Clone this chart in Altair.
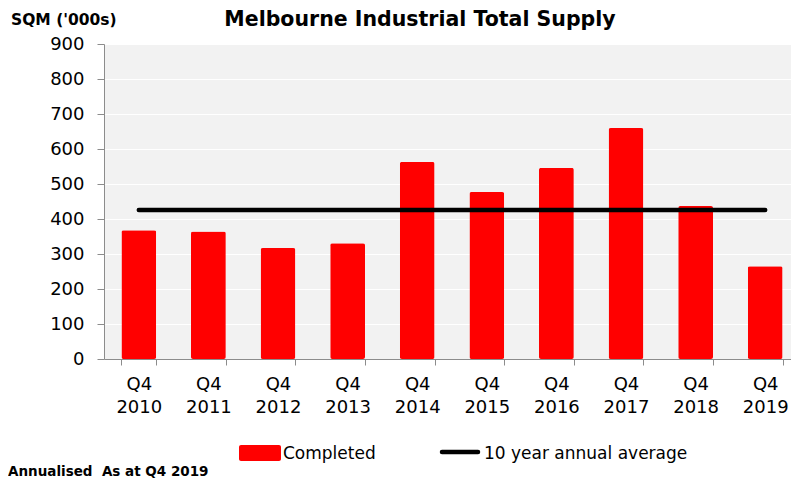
import altair as alt
import pandas as pd

quarters = ["Q4 2010", "Q4 2011", "Q4 2012", "Q4 2013", "Q4 2014",
            "Q4 2015", "Q4 2016", "Q4 2017", "Q4 2018", "Q4 2019"]
completed = [368, 364, 317, 331, 563, 477, 546, 660, 437, 265]
ten_year_avg = 426
y_ticks = [0, 100, 200, 300, 400, 500, 600, 700, 800, 900]

title_text = "Melbourne Industrial Total Supply"
y_title = "SQM ('000s)"
footnote = "Annualised\u00a0 As at Q4 2019"
legend_labels = ["Completed", "10 year annual average"]

FONT = "DejaVu Sans"
GRAY = "#8c8c8c"

df = pd.DataFrame({
    "quarter": quarters,
    "completed": completed,
    "avg": [ten_year_avg] * len(quarters),
})

x_scale = alt.Scale(paddingInner=0.5, paddingOuter=0.25)
x_axis = alt.Axis(
    labelExpr="split(datum.label, ' ')", labelAngle=0, labelFontSize=18,
    labelLineHeight=23, labelPadding=10, labelColor="black",
    tickBand="extent", tickSize=6, tickColor=GRAY, domainColor=GRAY,
    labelFont=FONT,
)
y_scale = alt.Scale(domain=[0, 900], nice=False)
y_axis = alt.Axis(
    values=y_ticks, labelFontSize=18, labelColor="black", labelPadding=13,
    tickSize=7, tickColor=GRAY, domainColor=GRAY, gridColor="white",
    gridWidth=1, labelFont=FONT, labelOverlap=False,
)

bars = alt.Chart(df).mark_bar(color="#ff0000", cornerRadius=2).encode(
    x=alt.X("quarter:N", sort=quarters, title=None, scale=x_scale, axis=x_axis),
    y=alt.Y("completed:Q", title=None, scale=y_scale, axis=y_axis),
)

avg_line = alt.Chart(df).mark_line(color="black", strokeWidth=4.5, strokeCap="round").encode(
    x=alt.X("quarter:N", sort=quarters, title=None, scale=x_scale, axis=x_axis),
    y=alt.Y("avg:Q", title=None, scale=y_scale, axis=y_axis),
)

one = pd.DataFrame({"t": [title_text], "yt": [y_title], "fn": [footnote],
                    "l1": [legend_labels[0]], "l2": [legend_labels[1]]})

title_mark = alt.Chart(one).mark_text(
    fontSize=20.5, fontWeight="bold", align="center", baseline="alphabetic", font=FONT, color="black"
).encode(text="t:N", x=alt.value(316), y=alt.value(-18))

ytitle_mark = alt.Chart(one).mark_text(
    fontSize=15.5, fontWeight="bold", align="left", baseline="alphabetic", font=FONT, color="black"
).encode(text="yt:N", x=alt.value(-93), y=alt.value(-19))

foot_mark = alt.Chart(one).mark_text(
    fontSize=13.5, fontWeight="bold", align="left", baseline="alphabetic", font=FONT, color="black"
).encode(text="fn:N", x=alt.value(-96), y=alt.value(432))

leg_rect = alt.Chart(one).mark_rect(color="#ff0000", cornerRadius=2).encode(
    x=alt.value(135), x2=alt.value(177), y=alt.value(401), y2=alt.value(417)
)
leg_t1 = alt.Chart(one).mark_text(
    fontSize=17, align="left", baseline="alphabetic", font=FONT, color="black"
).encode(text="l1:N", x=alt.value(179), y=alt.value(415))

leg_line = alt.Chart(one).mark_rule(color="black", strokeWidth=4.5, strokeCap="round").encode(
    x=alt.value(338), x2=alt.value(374), y=alt.value(408)
)
leg_t2 = alt.Chart(one).mark_text(
    fontSize=17, align="left", baseline="alphabetic", font=FONT, color="black"
).encode(text="l2:N", x=alt.value(380), y=alt.value(415))

chart = alt.layer(
    bars, avg_line, title_mark, ytitle_mark, foot_mark, leg_rect, leg_t1, leg_line, leg_t2
).properties(
    width=696, height=315,
    autosize=alt.AutoSizeParams(type="none"),
    padding={"left": 96, "top": 36, "right": -9, "bottom": 122},
).configure(font=FONT).configure_view(fill="#f2f2f2", strokeWidth=0)

chart.save("out.html", embed_options={"renderer": "svg", "actions": False})
